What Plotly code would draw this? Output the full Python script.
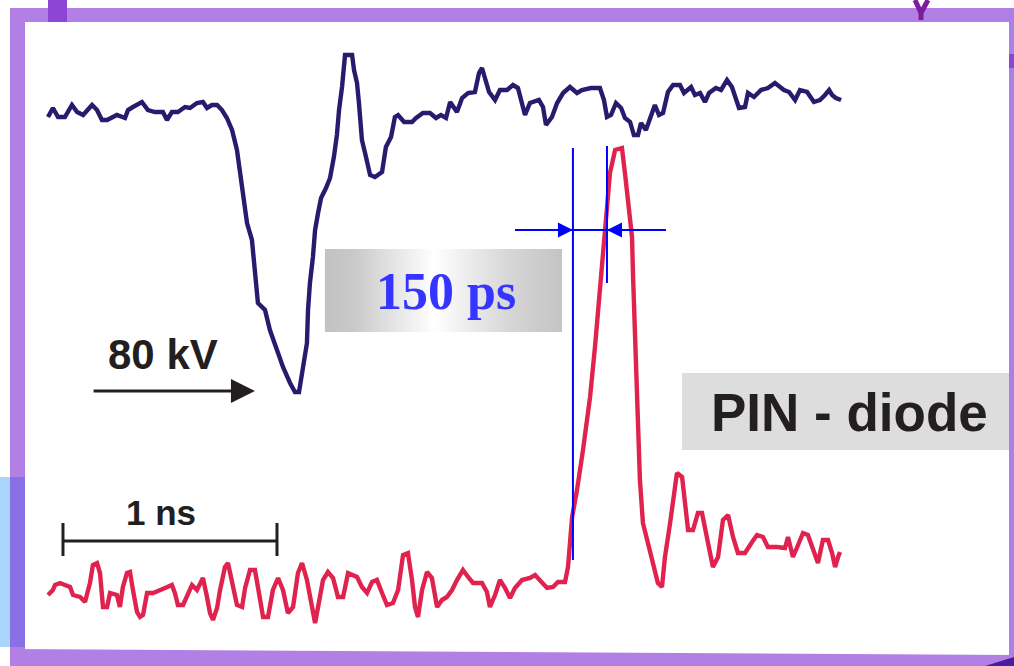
import plotly.graph_objects as go

W, H = 1014, 666

# ---------------- data ----------------
# upper trace: applied high-voltage pulse (80 kV), time in ns, signal in a.u.
t_pulse = [
    0.000, 0.023, 0.047, 0.079, 0.112, 0.136, 0.164, 0.206, 0.229, 0.252,
    0.276, 0.322, 0.360, 0.374, 0.397, 0.439, 0.467, 0.500, 0.537, 0.556,
    0.579, 0.607, 0.640, 0.664, 0.696, 0.724, 0.743, 0.766, 0.790, 0.813,
    0.836, 0.860, 0.883, 0.897, 0.911, 0.930, 0.953, 0.967, 0.981, 1.014,
    1.037, 1.070, 1.098, 1.131, 1.154, 1.173, 1.192, 1.210, 1.215, 1.224,
    1.238, 1.248, 1.262, 1.276, 1.299, 1.318, 1.336, 1.350, 1.360, 1.374,
    1.388, 1.421, 1.430, 1.444, 1.453, 1.467, 1.486, 1.505, 1.528, 1.561,
    1.579, 1.603, 1.621, 1.636, 1.664, 1.701, 1.720, 1.752, 1.785, 1.813,
    1.836, 1.860, 1.879, 1.897, 1.911, 1.935, 1.963, 1.995, 2.014, 2.028,
    2.047, 2.061, 2.089, 2.112, 2.145, 2.173, 2.196, 2.210, 2.229, 2.252,
    2.294, 2.313, 2.327, 2.355, 2.379, 2.407, 2.439, 2.472, 2.495, 2.537,
    2.579, 2.598, 2.612, 2.631, 2.654, 2.678, 2.696, 2.720, 2.738, 2.757,
    2.771, 2.794, 2.813, 2.836, 2.855, 2.874, 2.897, 2.921, 2.953, 2.972,
    3.005, 3.023, 3.047, 3.070, 3.089, 3.121, 3.145, 3.173, 3.196, 3.215,
    3.229, 3.257, 3.271, 3.299, 3.332, 3.364, 3.397, 3.421, 3.439, 3.463,
    3.491, 3.514, 3.547, 3.579, 3.607, 3.631, 3.650, 3.664, 3.682, 3.706,
]
v_pulse = [
    -7, 2, -7, -7, 5, -2, -5, 5, 0, -10,
    -10, -5, -8, 0, 3, 8, 0, -2, -2, -10,
    -2, -2, 3, 2, 7, 8, 2, 5, 5, 0,
    -8, -20, -40, -60, -83, -113, -130, -160, -193, -200,
    -220, -240, -257, -273, -282, -282, -257, -233, -200, -173,
    -147, -120, -103, -88, -78, -68, -47, -25, 0, 23,
    55, 55, 40, 27, 7, -30, -47, -65, -67, -62,
    -37, -27, -7, -5, -12, -12, -8, -3, -3, -8,
    -5, -8, 8, 3, -2, 12, 17, 18, 37, 42,
    27, 18, 10, 20, 20, 25, 22, 10, -5, 7,
    10, 3, -15, -7, 7, 17, 23, 17, 20, 22,
    22, 10, -7, -5, 7, 2, -8, -12, -25, -25,
    -13, -20, -8, 5, -5, -3, 18, 25, 25, 17,
    23, 15, 17, 8, 17, 22, 20, 30, 23, 10,
    2, 3, 17, 13, 20, 22, 27, 23, 20, 18,
    10, 20, 18, 8, 10, 15, 20, 15, 12, 10,
]

# lower trace: PIN-diode signal, time in ns, signal in a.u.
t_pin = [
    0.000, 0.023, 0.033, 0.056, 0.103, 0.117, 0.150, 0.173, 0.196, 0.210,
    0.229, 0.243, 0.257, 0.276, 0.290, 0.322, 0.336, 0.350, 0.369, 0.383,
    0.397, 0.416, 0.430, 0.444, 0.463, 0.491, 0.547, 0.579, 0.593, 0.607,
    0.631, 0.650, 0.673, 0.696, 0.724, 0.743, 0.757, 0.771, 0.790, 0.804,
    0.827, 0.841, 0.860, 0.883, 0.907, 0.921, 0.944, 0.967, 0.981, 1.005,
    1.028, 1.051, 1.075, 1.098, 1.121, 1.145, 1.168, 1.187, 1.210, 1.234,
    1.248, 1.262, 1.285, 1.308, 1.332, 1.355, 1.379, 1.402, 1.444, 1.467,
    1.491, 1.514, 1.537, 1.561, 1.584, 1.612, 1.636, 1.659, 1.682, 1.701,
    1.715, 1.729, 1.748, 1.771, 1.794, 1.818, 1.841, 1.864, 1.888, 1.911,
    1.939, 1.963, 1.986, 2.028, 2.051, 2.065, 2.089, 2.112, 2.136, 2.159,
    2.182, 2.215, 2.252, 2.276, 2.299, 2.332, 2.360, 2.383, 2.416, 2.430,
    2.449, 2.472, 2.500, 2.533, 2.556, 2.579, 2.593, 2.612, 2.626, 2.650,
    2.682, 2.696, 2.710, 2.729, 2.734, 2.743, 2.752, 2.757, 2.766, 2.780,
    2.804, 2.827, 2.850, 2.869, 2.883, 2.907, 2.921, 2.939, 2.963, 2.977,
    2.991, 3.014, 3.037, 3.056, 3.079, 3.107, 3.131, 3.154, 3.178, 3.201,
    3.224, 3.257, 3.290, 3.313, 3.341, 3.364, 3.407, 3.444, 3.458, 3.481,
    3.505, 3.528, 3.551, 3.575, 3.598, 3.621, 3.645, 3.664, 3.678, 3.692,
    3.701,
]
v_pin = [
    -5, 0, 5, 7, 3, -5, -7, -12, 7, 25,
    27, 17, -17, -17, -3, -5, -17, 3, 17, 18,
    0, -22, -27, -25, -3, -3, 2, 5, -3, -15,
    -15, -5, 5, 0, 12, -7, -23, -30, -18, 0,
    23, 27, 7, -15, -17, 2, 20, 20, 3, -27,
    -27, 0, 12, 0, -23, -17, 17, 27, 10, -17,
    -33, -17, 10, 18, 12, -7, -7, 17, 13, 3,
    -3, 8, 10, -3, -15, -13, 0, 35, 37, 10,
    -17, -27, 0, 18, 12, -17, -10, -7, 0, 10,
    20, 13, 7, 7, -2, -17, -5, 10, 2, -8,
    2, 10, 12, 15, 10, 2, 3, 8, 8, 23,
    73, 100, 140, 193, 243, 300, 333, 373, 417, 440,
    442, 417, 390, 353, 313, 260, 210, 160, 110, 67,
    47, 30, 7, 3, 33, 67, 93, 117, 113, 83,
    60, 60, 77, 77, 50, 23, 33, 70, 75, 53,
    37, 37, 48, 55, 53, 43, 43, 42, 53, 33,
    45, 57, 55, 40, 27, 50, 50, 37, 23, 33,
    38,
]

# scale bar (1 ns) and FWHM markers (150 ps)
scale_bar_start = 0.070
scale_bar_len = 1.0
fwhm_edges = [2.453, 2.612]
labels = ["80 kV", "1 ns", "150 ps", "PIN - diode"]

# ---------------- styling / layout helpers ----------------
BLUE_TRACE = "#2a1a6e"
RED_TRACE = "#e0224f"
INK = "#231f20"
MARK_BLUE = "#0000ff"
BORDER = "#b280e4"


def fx(p):
    return p / W


def fy(p):
    return 1 - p / H


fig = go.Figure()

# gradient label box behind "150 ps"
box_x = [1.294, 2.402, 2.402, 1.294, 1.294]
box_y = [341, 341, 258, 258, 341]
fig.add_trace(go.Scatter(
    x=box_x, y=box_y, yaxis="y2", mode="lines", line=dict(width=0),
    fill="toself",
    fillgradient=dict(type="horizontal", colorscale=[
        [0.0, "#c2c2c2"], [0.12, "#c9c9c9"], [0.46, "#ffffff"],
        [0.78, "#d6d6d6"], [1.0, "#c4c4c4"]]),
    hoverinfo="skip", showlegend=False))

fig.add_trace(go.Scatter(
    x=t_pulse, y=v_pulse, yaxis="y", mode="lines",
    line=dict(color=BLUE_TRACE, width=4.4), showlegend=False))
fig.add_trace(go.Scatter(
    x=t_pin, y=v_pin, yaxis="y2", mode="lines",
    line=dict(color=RED_TRACE, width=4.4), showlegend=False))

# scale bar
s0, s1 = scale_bar_start, scale_bar_start + scale_bar_len
fig.add_trace(go.Scatter(
    x=[s0, s0, None, s0, s1, None, s1, s1],
    y=[67, 34, None, 49, 49, None, 67, 34],
    yaxis="y2", mode="lines", line=dict(color=INK, width=3),
    showlegend=False, hoverinfo="skip"))

# FWHM marker lines
fig.add_trace(go.Scatter(
    x=[fwhm_edges[0], fwhm_edges[0], None, fwhm_edges[1], fwhm_edges[1], None, 2.182, 2.888],
    y=[442, 30, None, 444, 307, None, 360, 360],
    yaxis="y2", mode="lines", line=dict(color=MARK_BLUE, width=2),
    showlegend=False, hoverinfo="skip"))

annotations = [
    # 80 kV arrow
    dict(x=0.967, y=-281, ax=0.206, ay=-281, xref="x", yref="y", axref="x", ayref="y",
         text="", showarrow=True, arrowhead=2, arrowsize=1.6, arrowwidth=3, arrowcolor=INK,
         standoff=0),
    # FWHM arrows
    dict(x=fwhm_edges[0], y=360, ax=2.182, ay=360, xref="x", yref="y2", axref="x", ayref="y2",
         text="", showarrow=True, arrowhead=2, arrowsize=1.5, arrowwidth=2, arrowcolor=MARK_BLUE,
         standoff=0),
    dict(x=fwhm_edges[1], y=360, ax=2.888, ay=360, xref="x", yref="y2", axref="x", ayref="y2",
         text="", showarrow=True, arrowhead=2, arrowsize=1.5, arrowwidth=2, arrowcolor=MARK_BLUE,
         standoff=0),
    dict(x=0.537, y=-244, xref="x", yref="y", text=labels[0], showarrow=False,
         xanchor="center", yanchor="middle",
         font=dict(family="Liberation Sans, Arial", size=42, color=INK, weight="bold")),
    dict(x=0.530, y=78, xref="x", yref="y2", text=labels[1], showarrow=False,
         xanchor="center", yanchor="middle",
         font=dict(family="Liberation Sans, Arial", size=35, color=INK, weight="bold")),
    dict(x=1.860, y=299, xref="x", yref="y2", text=labels[2], showarrow=False,
         xanchor="center", yanchor="middle",
         font=dict(family="Liberation Serif, Times New Roman", size=52, color="#3535ff", weight="bold")),
    dict(x=3.743, y=178, xref="x", yref="y2", text=labels[3], showarrow=False,
         xanchor="center", yanchor="middle",
         font=dict(family="Liberation Sans, Arial", size=53, color=INK, weight="bold")),
]

shapes = [
    # grey box behind PIN - diode
    dict(type="rect", xref="x", yref="y2", x0=2.963, x1=4.55, y0=140, y1=217,
         fillcolor="#dddddd", line=dict(width=0), layer="below"),
    # slide frame
    dict(type="rect", xref="paper", yref="paper", x0=fx(10), x1=fx(1014), y0=fy(22), y1=fy(8),
         fillcolor=BORDER, line=dict(width=0), layer="above"),
    dict(type="rect", xref="paper", yref="paper", x0=fx(10), x1=fx(25), y0=fy(666), y1=fy(8),
         fillcolor=BORDER, line=dict(width=0), layer="above"),
    dict(type="rect", xref="paper", yref="paper", x0=fx(1009), x1=fx(1014), y0=fy(666), y1=fy(8),
         fillcolor="#a880e6", line=dict(width=0), layer="above"),
    dict(type="path", xref="paper", yref="paper",
         path=f"M{fx(10)},{fy(649)} L{fx(1014)},{fy(655)} L{fx(1014)},{fy(666)} L{fx(10)},{fy(666)} Z",
         fillcolor=BORDER, line=dict(width=0), layer="above"),
    dict(type="rect", xref="paper", yref="paper", x0=fx(0), x1=fx(10), y0=fy(647), y1=fy(477),
         fillcolor="#abd5fb", line=dict(width=0), layer="above"),
    dict(type="rect", xref="paper", yref="paper", x0=fx(10), x1=fx(25), y0=fy(647), y1=fy(477),
         fillcolor="#8a70e6", line=dict(width=0), layer="above"),
    dict(type="rect", xref="paper", yref="paper", x0=fx(48), x1=fx(67), y0=fy(22), y1=fy(0),
         fillcolor="#8d45d6", line=dict(width=0), layer="above"),
    dict(type="rect", xref="paper", yref="paper", x0=fx(1009), x1=fx(1014), y0=fy(68), y1=fy(54),
         fillcolor="#8d45d6", line=dict(width=0), layer="above"),
    dict(type="path", xref="paper", yref="paper",
         path=f"M{fx(915)},{fy(0)} L{fx(921)},{fy(13)} L{fx(928)},{fy(0)} M{fx(921)},{fy(11)} L{fx(921)},{fy(20)}",
         line=dict(color="#7d1ca3", width=5), layer="above"),
    dict(type="path", xref="paper", yref="paper",
         path=f"M{fx(985)},{fy(666)} L{fx(1014)},{fy(657)} L{fx(1014)},{fy(666)} Z",
         fillcolor="#4b1ba0", line=dict(width=0), layer="above"),
]

fig.update_layout(
    width=W, height=H,
    margin=dict(l=0, r=0, t=0, b=0, pad=0),
    paper_bgcolor="white", plot_bgcolor="white",
    xaxis=dict(range=[-48 / 214, 966 / 214], visible=False, domain=[0, 1], fixedrange=True),
    yaxis=dict(range=[-556, 110], visible=False, domain=[0, 1], fixedrange=True),
    yaxis2=dict(range=[-76, 590], visible=False, overlaying="y", fixedrange=True),
    annotations=annotations,
    shapes=shapes,
    showlegend=False,
)

fig.write_html("out.html", config={"displayModeBar": False},
               post_script="document.body.style.margin='0';")
